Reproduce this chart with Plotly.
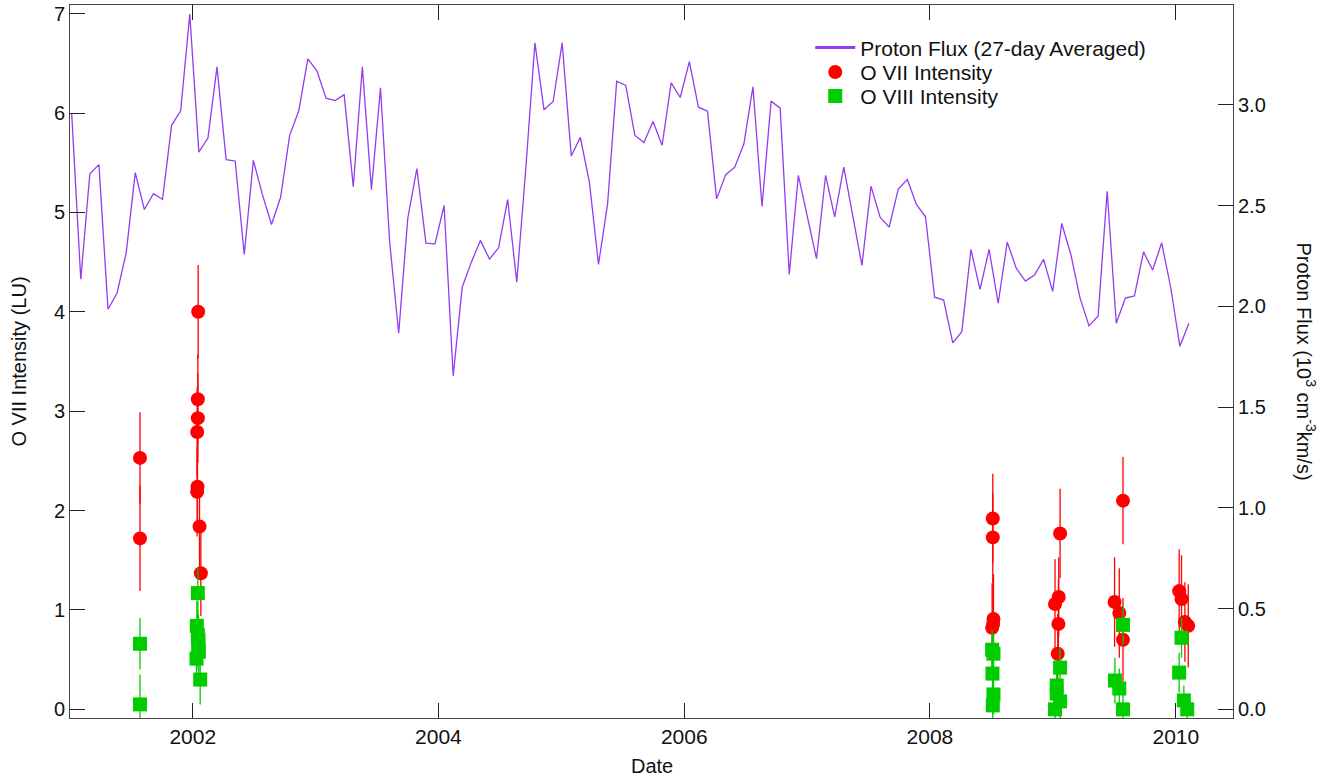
import pandas as pd
import plotly.graph_objects as go

# Proton flux, 27-day averages (10^3 cm^-3 km/s), starting 2001-01-06
flux_start = "2001-01-06"
flux_values = [
    2.958, 2.134, 2.658, 2.703, 1.985, 2.066, 2.265, 2.663, 2.480, 2.559,
    2.530, 2.898, 2.970, 3.450, 2.765, 2.835, 3.188, 2.728, 2.721, 2.257,
    2.724, 2.554, 2.406, 2.541, 2.848, 2.970, 3.228, 3.168, 3.033, 3.021,
    3.050, 2.594, 3.188, 2.579, 3.084, 2.323, 1.866, 2.436, 2.683, 2.313,
    2.310, 2.500, 1.655, 2.096, 2.219, 2.327, 2.234, 2.290, 2.530, 2.120,
    2.686, 3.307, 2.975, 3.016, 3.307, 2.746, 2.838, 2.615, 2.208, 2.508,
    3.117, 3.096, 2.848, 2.813, 2.917, 2.799, 3.109, 3.036, 3.214, 2.988,
    2.968, 2.533, 2.653, 2.690, 2.805, 3.089, 2.495, 3.018, 2.983, 2.158,
    2.650, 2.442, 2.236, 2.650, 2.444, 2.690, 2.447, 2.203, 2.596, 2.442,
    2.393, 2.582, 2.629, 2.505, 2.444, 2.045, 2.031, 1.818, 1.874, 2.282,
    2.084, 2.282, 2.015, 2.318, 2.188, 2.125, 2.155, 2.233, 2.074, 2.411,
    2.257, 2.043, 1.903, 1.952, 2.571, 1.916, 2.041, 2.051, 2.270, 2.180,
    2.315, 2.092, 1.802, 1.916,
]
flux_dates = pd.date_range(flux_start, periods=len(flux_values), freq="27D")

# O VII intensity (LU)
o7_dates = [
    "2001-07-28", "2001-07-28",
    "2002-01-17", "2002-01-16", "2002-01-16", "2002-01-14", "2002-01-15",
    "2002-01-14", "2002-01-21", "2002-01-25",
    "2008-07-06", "2008-07-06", "2008-07-08", "2008-07-07", "2008-07-04",
    "2009-01-22", "2009-01-18", "2009-01-07", "2009-01-17", "2009-01-15",
    "2009-07-28", "2009-07-03", "2009-07-17", "2009-07-28",
    "2010-01-11", "2010-01-18", "2010-01-28", "2010-02-07",
]
o7_values = [
    2.53, 1.72,
    4.00, 3.12, 2.93, 2.79, 2.24, 2.19, 1.84, 1.37,
    1.92, 1.73, 0.91, 0.86, 0.82,
    1.77, 1.13, 1.06, 0.86, 0.56,
    2.10, 1.08, 0.97, 0.70,
    1.19, 1.11, 0.88, 0.84,
]
o7_errors = [
    0.46, 0.53,
    0.47, 0.45, 0.45, 0.45, 0.45, 0.45, 0.45, 0.43,
    0.45, 0.45, 0.45, 0.45, 0.45,
    0.45, 0.40, 0.45, 0.45, 0.40,
    0.44, 0.45, 0.45, 0.42,
    0.42, 0.44, 0.40, 0.42,
]

# O VIII intensity (LU)
o8_dates = [
    "2001-07-28", "2001-07-28",
    "2002-01-16", "2002-01-13", "2002-01-16", "2002-01-18", "2002-01-17",
    "2002-01-19", "2002-01-12", "2002-01-23",
    "2008-07-04", "2008-07-08", "2008-07-05", "2008-07-08", "2008-07-06",
    "2009-01-22", "2009-01-12", "2009-01-12", "2009-01-22", "2009-01-07",
    "2009-07-28", "2009-07-04", "2009-07-17", "2009-07-28",
    "2010-01-18", "2010-01-11", "2010-01-25", "2010-02-04",
]
o8_values = [
    0.66, 0.05,
    1.17, 0.84, 0.75, 0.70, 0.64, 0.58, 0.51, 0.30,
    0.60, 0.56, 0.36, 0.15, 0.04,
    0.42, 0.24, 0.16, 0.08, 0.00,
    0.85, 0.29, 0.21, 0.00,
    0.72, 0.37, 0.09, 0.00,
]
o8_errors = [
    0.26, 0.30,
    0.25, 0.25, 0.25, 0.25, 0.25, 0.25, 0.25, 0.25,
    0.20, 0.20, 0.20, 0.20, 0.20,
    0.20, 0.20, 0.20, 0.20, 0.15,
    0.20, 0.23, 0.20, 0.15,
    0.20, 0.20, 0.15, 0.15,
]

FONT = "Liberation Sans, Arial, sans-serif"
PURPLE = "rgb(148,60,240)"
RED = "rgb(255,0,0)"
GREEN = "rgb(0,204,0)"

fig = go.Figure()

fig.add_trace(go.Scatter(
    x=flux_dates, y=flux_values, mode="lines", yaxis="y2",
    name="Proton Flux (27-day Averaged)", showlegend=False,
    line=dict(color=PURPLE, width=1.3),
))
# legend-only entry with a thicker line sample
fig.add_trace(go.Scatter(
    x=[None], y=[None], mode="lines", yaxis="y2",
    name="Proton Flux (27-day Averaged)", legend="legend",
    line=dict(color=PURPLE, width=3),
))
fig.add_trace(go.Scatter(
    x=pd.to_datetime(o7_dates), y=o7_values, mode="markers",
    name="O VII Intensity", legend="legend2",
    marker=dict(symbol="circle", size=14, color=RED),
    error_y=dict(type="data", array=o7_errors, color=RED, thickness=1.3, width=0),
))
fig.add_trace(go.Scatter(
    x=pd.to_datetime(o8_dates), y=o8_values, mode="markers",
    name="O VIII Intensity", legend="legend3",
    marker=dict(symbol="square", size=14, color=GREEN),
    error_y=dict(type="data", array=o8_errors, color=GREEN, thickness=1.3, width=0),
))

axis_common = dict(
    showgrid=False, zeroline=False, showline=True, linecolor="#444", linewidth=1,
    ticks="inside", ticklen=15, tickcolor="#222", tickwidth=1,
)


def leg(ypix):
    return dict(
        x=0.6365, y=1 - (ypix - 3) / 715, xanchor="left", yanchor="middle",
        bgcolor="rgba(0,0,0,0)", borderwidth=0,
        font=dict(family=FONT, size=21, color="#111"),
        itemwidth=40,
    )


fig.update_layout(
    width=1338, height=782,
    margin=dict(l=70, r=105, t=3, b=64),
    paper_bgcolor="white", plot_bgcolor="white",
    font=dict(family=FONT, size=20, color="#111"),
    showlegend=True,
    legend=leg(46), legend2=leg(70.5), legend3=leg(94.5),
    xaxis=dict(
        **axis_common, mirror="ticks", type="date",
        range=["2001-01-01", "2010-06-20"],
        tick0="2002-01-01", dtick="M24", tickformat="%Y",
        tickfont=dict(family=FONT, size=21, color="#111"),
    ),
    yaxis=dict(
        **axis_common, range=[-0.087, 7.087], dtick=1, tick0=0,
        tickfont=dict(family=FONT, size=20, color="#111"),
    ),
    yaxis2=dict(
        **axis_common, overlaying="y", side="right", range=[-0.043, 3.495],
        tickvals=[0, 0.5, 1.0, 1.5, 2.0, 2.5, 3.0], tickformat=".1f",
        tickfont=dict(family=FONT, size=20, color="#111"),
    ),
    annotations=[
        dict(text="Date", xref="paper", yref="paper", x=0.5, y=-0.067,
             xanchor="center", yanchor="middle", showarrow=False,
             font=dict(family=FONT, size=20, color="#111")),
        dict(text="O VII Intensity (LU)", xref="paper", yref="paper",
             x=-52 / 1163, y=0.5, xanchor="center", yanchor="middle",
             textangle=-90, showarrow=False,
             font=dict(family=FONT, size=20, color="#111")),
        dict(text="Proton Flux (10<sup>3</sup> cm<sup>-3</sup>km/s)",
             xref="paper", yref="paper", x=1 + 73 / 1163, y=0.5,
             xanchor="center", yanchor="middle", textangle=90, showarrow=False,
             font=dict(family=FONT, size=20, color="#111")),
    ],
)

fig.write_html("out.html")
